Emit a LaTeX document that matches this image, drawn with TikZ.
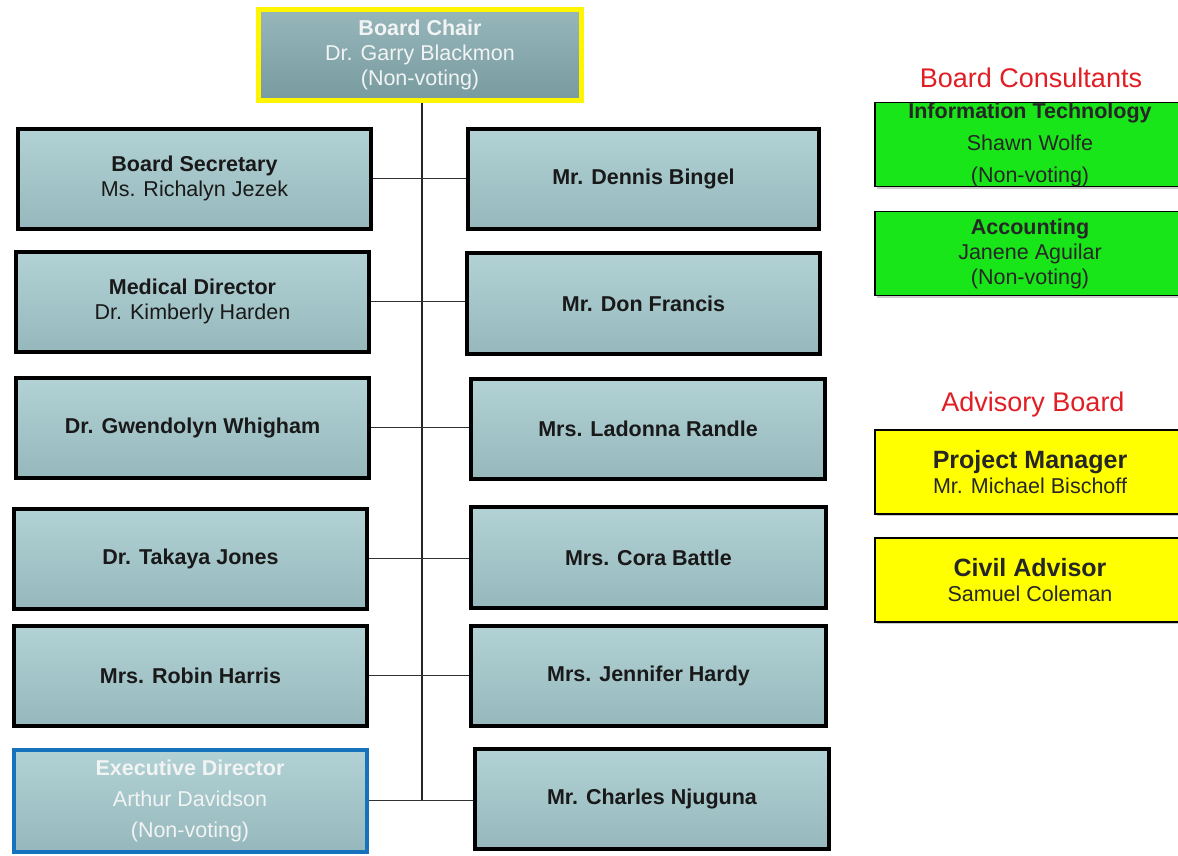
\documentclass[tikz,border=0pt]{standalone}
\usepackage{fontspec}
\setmainfont{Liberation Sans}
\usetikzlibrary{shadows}
\definecolor{boxtop}{RGB}{178,210,213}
\definecolor{boxmid}{RGB}{170,203,206}
\definecolor{boxbot}{RGB}{150,184,188}
\definecolor{chairtop}{RGB}{150,182,186}
\definecolor{chairbot}{RGB}{120,155,160}
\definecolor{chairyel}{RGB}{255,245,0}
\definecolor{execblue}{RGB}{22,114,189}
\definecolor{consgreen}{RGB}{24,230,24}
\definecolor{advyellow}{RGB}{255,255,0}
\definecolor{titlered}{RGB}{224,30,36}
\definecolor{linegray}{RGB}{50,50,50}
\definecolor{paletext}{RGB}{242,244,244}
\tikzset{
  member/.style={draw=black, line width=4pt, top color=boxtop, middle color=boxmid, bottom color=boxbot,
    minimum width=353pt, minimum height=100pt, inner sep=0pt, align=center,
    font=\fontsize{21.5}{25}\selectfont, text=black!90,
    drop shadow={shadow xshift=2pt, shadow yshift=-2pt, opacity=0.35}},
  chairbox/.style={member, draw=chairyel, line width=5pt, top color=chairtop, middle color=chairtop!50!chairbot, bottom color=chairbot,
    text=paletext, minimum width=323pt, minimum height=91pt},
  execbox/.style={member, draw=execblue, text=paletext,
    font=\fontsize{21.5}{31}\selectfont},
  consbox/.style={draw=black, line width=1.5pt, fill=consgreen, minimum width=310pt,
    minimum height=84pt, inner sep=0pt, align=center, text=black!85,
    font=\fontsize{21.5}{25}\selectfont,
    drop shadow={shadow xshift=2pt, shadow yshift=-2pt, opacity=0.4}},
  advbox/.style={consbox, fill=advyellow},
  grouptitle/.style={text=titlered, font=\fontsize{27}{30}\selectfont, inner sep=0pt},
  link/.style={draw=linegray, line width=1.4pt},
}
\begin{document}
\begin{tikzpicture}[x=1pt,y=-1pt]
\useasboundingbox (0,0) rectangle (1178,855);
\clip (0,0) rectangle (1178,855);
\fill[white] (0,0) rectangle (1178,855);

% chair
\node[chairbox] (chair) at (420,55) {\textbf{Board Chair}\\Dr. Garry Blackmon\\(Non-voting)};

% left column
\node[member] (sec)  at (194.5,178.5) {\textbf{Board Secretary}\\Ms. Richalyn Jezek};
\node[member] (med)  at (192.5,301.5) {\textbf{Medical Director}\\Dr. Kimberly Harden};
\node[member] (gwen) at (192.5,427.5) {\textbf{Dr. Gwendolyn Whigham}};
\node[member] (tak)  at (190.5,558.5) {\textbf{Dr. Takaya Jones}};
\node[member] (rob)  at (190.5,675.5) {\textbf{Mrs. Robin Harris}};
\node[execbox, minimum height=102pt] (exec) at (190,800.5) {\textbf{Executive Director}\\Arthur Davidson\\(Non-voting)};

% right column
\node[member, minimum width=351pt] (den)  at (643.5,179) {\textbf{Mr. Dennis Bingel}};
\node[member, minimum height=101pt] (don)  at (643.5,303.5) {\textbf{Mr. Don Francis}};
\node[member, minimum width=354pt] (lad)  at (648,429) {\textbf{Mrs. Ladonna Randle}};
\node[member, minimum width=355pt, minimum height=101pt] (cora) at (648.5,557.5) {\textbf{Mrs. Cora Battle}};
\node[member, minimum width=355pt] (jen)  at (648.5,676) {\textbf{Mrs. Jennifer Hardy}};
\node[member, minimum width=354pt] (cha)  at (652,799) {\textbf{Mr. Charles Njuguna}};

% connectors
\coordinate (tbot) at ([xshift=2pt]chair.south |- exec.east);
\draw[link, line width=1.8pt, draw=black!85] ([xshift=2pt]chair.south) -- (tbot);
\draw[link] (sec.east) -- (sec.east -| den.west);
\draw[link] (med.east) -- (med.east -| don.west);
\draw[link] (gwen.east) -- (gwen.east -| lad.west);
\draw[link] (tak.east) -- (tak.east -| cora.west);
\draw[link] (rob.east) -- (rob.east -| jen.west);
\draw[link] (exec.east) -- (tbot) -- (tbot -| cha.west);

% board consultants
\node[grouptitle] (bct) at (1031,78) {Board Consultants};
\node[consbox, font=\fontsize{21.5}{32}\selectfont] (it) at (1030,144.5) {\textbf{Information Technology}\\Shawn Wolfe\\(Non-voting)};
\node[consbox] (acc) at (1030,253.5) {\textbf{Accounting}\\Janene Aguilar\\(Non-voting)};

% advisory board
\node[grouptitle] (abt) at (1033,405) {Advisory Board};
\node[advbox] (pm) at (1030,472) {{\fontsize{25}{28}\selectfont\textbf{Project Manager}}\\Mr. Michael Bischoff};
\node[advbox] (civ) at (1030,580) {{\fontsize{25}{28}\selectfont\textbf{Civil Advisor}}\\Samuel Coleman};
\end{tikzpicture}
\end{document}
